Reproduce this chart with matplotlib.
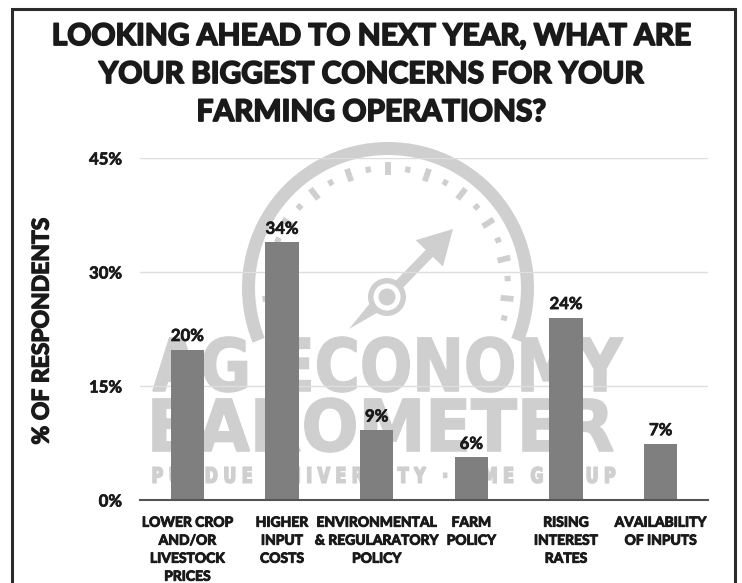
import numpy as np
import matplotlib
matplotlib.use('Agg')
import matplotlib.pyplot as plt
import matplotlib.patheffects as pe
from matplotlib.patches import Wedge, Circle, FancyArrow, Polygon, PathPatch
from matplotlib.textpath import TextPath
from matplotlib.font_manager import FontProperties
from matplotlib.transforms import Affine2D

# data
categories = ['LOWER CROP\nAND/OR\nLIVESTOCK\nPRICES', 'HIGHER\nINPUT\nCOSTS',
              'ENVIRONMENTAL\n& REGULARATORY\nPOLICY', 'FARM\nPOLICY',
              'RISING\nINTEREST\nRATES', 'AVAILABILITY\nOF INPUTS']
values = [19.8, 33.9, 9.2, 5.6, 24.0, 7.4]
value_labels = ['20%', '34%', '9%', '6%', '24%', '7%']
y_ticks = [0, 15, 30, 45]
y_tick_labels = ['0%', '15%', '30%', '45%']
title_lines = ['LOOKING AHEAD TO NEXT YEAR, WHAT ARE',
               'YOUR BIGGEST CONCERNS FOR YOUR',
               'FARMING OPERATIONS?']

W, H = 742, 583
BAR = '#7f7f7f'
WM = '#cfcfcf'
INK = '#1a1a1a'
HEAVY = 'Lato'


def thick(w):
    return [pe.withStroke(linewidth=w, foreground=INK)]


def fit_text(ax, s, x0, x1, ytop, ybot, family, weight='bold'):
    """
    把文字路径拉伸到给定像素框里（水印用）
    """
    tp = TextPath((0, 0), s, size=100, prop=FontProperties(family=family, weight=weight))
    ext = tp.get_extents()
    sx = (x1 - x0) / ext.width
    sy = (ybot - ytop) / ext.height
    tr = Affine2D().translate(-ext.x0, -ext.y1).scale(sx, -sy).translate(x0, ytop)
    ax.add_patch(PathPatch(tr.transform_path(tp), facecolor=WM, edgecolor=WM, lw=1.2))


def draw_watermark(bg):
    cx, cy = 388, 288
    # outer band, visual angles -22..202 -> data angles (y axis inverted)
    bg.add_patch(Wedge((cx, cy), 146, 158, 382, width=13, color=WM, lw=0))
    for k in range(12):
        for sgn in (1, -1):
            phi = np.radians(90 - sgn * 9.5 * k)
            if k % 2 == 0:
                r0, r1, lw = 113, 126, 4.2
            else:
                r0, r1, lw = 117, 123, 3.8
            bg.plot([cx + r0 * np.cos(phi), cx + r1 * np.cos(phi)],
                    [cy - r0 * np.sin(phi), cy - r1 * np.sin(phi)],
                    color=WM, lw=lw, solid_capstyle='butt')
            if k == 0:
                break
    hx, hy = 387, 297
    bg.add_patch(FancyArrow(hx, hy, 66, -68, width=10, head_width=38, head_length=34,
                            length_includes_head=True, color=WM, lw=0))
    bg.add_patch(Polygon([[hx - 7, hy - 6], [hx + 7, hy + 6], [hx - 38, hy + 32]],
                         closed=True, color=WM, lw=0))
    bg.add_patch(Circle((hx, hy), 19, color=WM, lw=0))
    bg.add_patch(Circle((hx, hy), 13.5, color='white', lw=0))
    bg.add_patch(Circle((hx, hy), 8.5, color=WM, lw=0))

    fit_text(bg, 'AG ECONOMY', 153, 623, 337, 392, 'Liberation Sans Narrow')
    fit_text(bg, 'BAROMETER', 153, 613, 398, 452, 'Liberation Sans Narrow')
    fit_text(bg, 'P U R D U E   U N I V E R S I T Y   ·   C M E   G R O U P',
             153, 615, 467, 483, 'Liberation Sans Narrow')


fig = plt.figure(figsize=(W / 100, H / 100), dpi=100)

bg = fig.add_axes([0, 0, 1, 1])
bg.set_xlim(0, W)
bg.set_ylim(H, 0)
bg.axis('off')
draw_watermark(bg)
# frame
bg.plot([12, 12, 735, 735], [H + 5, 9, 9, H + 5], color='#2b2b2b', lw=2.2,
        solid_joinstyle='miter')

ax = fig.add_axes([140 / W, 83 / H, 568 / W, 342 / H])
ax.set_facecolor('none')
x = np.arange(len(values))
ax.bar(x, values, width=0.35, color=BAR, zorder=3)
for i in range(len(values)):
    ax.annotate(value_labels[i], (x[i], values[i]), xytext=(0, 4), textcoords='offset points',
                ha='center', va='bottom', fontsize=12, fontweight='bold', family='Lato',
                color=INK, path_effects=thick(0.5))

ax.set_xlim(-0.5, len(values) - 0.5)
ax.set_ylim(0, 45)
ax.set_yticks(y_ticks)
ax.set_yticklabels(y_tick_labels, fontsize=12, fontweight='bold', family='Lato', color=INK,
                   path_effects=thick(0.5))
ax.set_xticks(x)
ax.set_xticklabels(categories, fontsize=10, fontweight='bold', family=HEAVY, color=INK,
                   linespacing=1.6, path_effects=thick(0.7))
ax.tick_params(axis='y', length=0, pad=13)
ax.tick_params(axis='x', length=0, pad=12)
ax.grid(axis='y', color='#dedede', lw=1, zorder=0)
ax.set_axisbelow(True)
for s in ['top', 'right', 'left']:
    ax.spines[s].set_visible(False)
ax.spines['bottom'].set_color('#555555')
ax.spines['bottom'].set_linewidth(1.5)
ax.spines['bottom'].set_zorder(4)

fig.text(42 / W, 1 - 331 / H, '% OF RESPONDENTS', rotation=90, ha='center', va='center',
         fontsize=16.5, fontweight='bold', family=HEAVY, color=INK, path_effects=thick(1.0))

for i, line in enumerate(title_lines):
    fig.text(0.5, 1 - (36 + 38 * i) / H, line, ha='center', va='center',
             fontsize=21.5, fontweight='bold', family=HEAVY, color=INK,
             path_effects=thick(1.3))

fig.savefig('out.png', dpi=100)
